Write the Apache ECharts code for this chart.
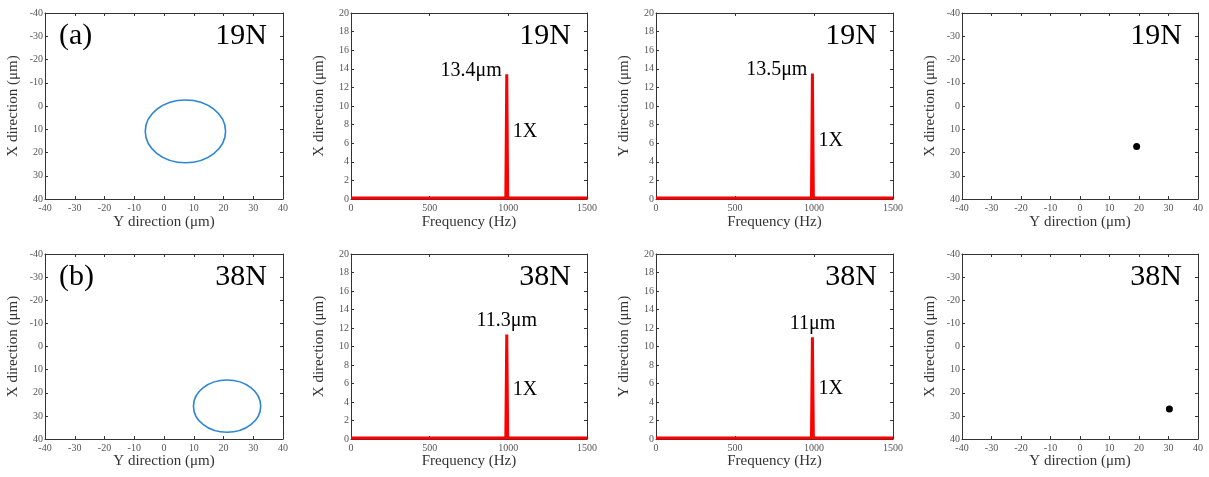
<!DOCTYPE html>
<html>
<head>
<meta charset="utf-8">
<script src="https://cdn.jsdelivr.net/npm/echarts@6/dist/echarts.min.js"></script>
<style>
html,body{margin:0;padding:0;background:#fff;}
#chart{width:1209px;height:477px;}
</style>
</head>
<body>
<div id="chart"></div>
<script>
// ---------- data ----------
const rowLoads = ['19N', '38N'];
const rowTags = ['(a)', '(b)'];
// orbit (ellipse) : centre in Y / X direction, radius in Y / X direction (µm)
const orbitCentreY = [7.2, 21.2];
const orbitCentreX = [10.9, 25.8];
const orbitRadiusY = [13.5, 11.3];
const orbitRadiusX = [13.5, 11.3];
// spectra
const freqHz = [0, 500, 984, 990, 996, 1500];
const specX19 = [0.1, 0.1, 0.1, 13.4, 0.1, 0.1];
const specY19 = [0.1, 0.1, 0.1, 13.5, 0.1, 0.1];
const specX38 = [0.1, 0.1, 0.1, 11.3, 0.1, 0.1];
const specY38 = [0.1, 0.1, 0.1, 11.0, 0.1, 0.1];
const peakFreq = 990;
const peakLabels = [['13.4μm', '13.5μm'], ['11.3μm', '11μm']];
const harmonicLabel = '1X';
const harmonicLabelLevel = [[7.2, 6.3], [5.3, 5.4]];
// filtered 1X position dot (Y dir, X dir)
const dotY = [19.2, 30.3];
const dotX = [17.4, 27.0];
// tick settings
const posTicks = { min: -40, max: 40, interval: 10 };
const freqTicks = { min: 0, max: 1500, interval: 500 };
const ampTicks = { min: 0, max: 20, interval: 2 };

// ---------- layout ----------
const colLeft = [45, 351, 656, 962];
const colWidth = [238, 236, 237, 236];
const rowTop = [13, 254];
const rowHeight = [186, 185];
const xNameGap = [16, 12];

const SERIF = '"Liberation Serif", "DejaVu Serif", serif';
const tickLabel = { fontFamily: SERIF, fontSize: 10, color: '#555', margin: 4, formatter: v => String(v) };
const axisLine = { onZero: false, lineStyle: { color: '#333', width: 1 } };
const axisTick = { inside: true, length: 3, lineStyle: { color: '#333' } };
const nameStyle = { fontFamily: SERIF, fontSize: 15, color: '#333' };

const grids = [], xAxes = [], yAxes = [], series = [], graphics = [];
const spectra = [[specX19, specY19], [specX38, specY38]];

for (let r = 0; r < 2; r++) {
  for (let c = 0; c < 4; c++) {
    const g = grids.length;
    grids.push({ left: colLeft[c], top: rowTop[r], width: colWidth[c], height: rowHeight[r], containLabel: false });
    const isPos = (c === 0 || c === 3);
    const xr = isPos ? posTicks : freqTicks;
    const yr = isPos ? posTicks : ampTicks;
    const xName = isPos ? 'Y direction (μm)' : 'Frequency (Hz)';
    const yName = (c === 2) ? 'Y direction (μm)' : 'X direction (μm)';
    const xi = xAxes.length, yi = yAxes.length;
    xAxes.push({
      type: 'value', gridIndex: g, position: 'bottom', min: xr.min, max: xr.max, interval: xr.interval,
      name: xName, nameLocation: 'middle', nameGap: xNameGap[r], nameTextStyle: nameStyle,
      axisLine: axisLine, axisTick: axisTick,
      axisLabel: tickLabel, splitLine: { show: false }
    });
    xAxes.push({
      type: 'value', gridIndex: g, position: 'top', min: xr.min, max: xr.max, interval: xr.interval,
      axisLine: axisLine, axisTick: axisTick,
      axisLabel: { show: false }, splitLine: { show: false }
    });
    yAxes.push({
      type: 'value', gridIndex: g, position: 'left', min: yr.min, max: yr.max, interval: yr.interval,
      inverse: isPos,
      name: yName, nameLocation: 'middle', nameGap: 24, nameRotate: 90, nameTextStyle: nameStyle,
      axisLine: axisLine, axisTick: axisTick,
      axisLabel: Object.assign({}, tickLabel, { margin: 2 }), splitLine: { show: false }
    });
    yAxes.push({
      type: 'value', gridIndex: g, position: 'right', min: yr.min, max: yr.max, interval: yr.interval,
      inverse: isPos,
      axisLine: axisLine, axisTick: axisTick,
      axisLabel: { show: false }, splitLine: { show: false }
    });

    if (c === 0) {
      series.push({
        type: 'custom', xAxisIndex: xi, yAxisIndex: yi, clip: false,
        data: [[orbitCentreY[r], orbitCentreX[r], orbitRadiusY[r], orbitRadiusX[r]]],
        renderItem: function (params, api) {
          const ctr = api.coord([api.value(0), api.value(1)]);
          const sz = api.size([api.value(2), api.value(3)]);
          return {
            type: 'ellipse',
            shape: { cx: ctr[0], cy: ctr[1], rx: sz[0], ry: sz[1] },
            style: { fill: 'none', stroke: '#2c86d6', lineWidth: 1.6 }
          };
        }
      });
    } else if (c === 3) {
      series.push({
        type: 'scatter', xAxisIndex: xi, yAxisIndex: yi, symbolSize: 7,
        itemStyle: { color: '#000', opacity: 1 }, data: [[dotY[r], dotX[r]]]
      });
    } else {
      const vals = spectra[r][c - 1];
      const peakVal = Math.max.apply(null, vals);
      const peakLabel = peakLabels[r][c - 1];
      series.push({
        type: 'line', xAxisIndex: xi, yAxisIndex: yi, showSymbol: false, symbol: 'none',
        lineStyle: { color: '#ff0000', width: 3 }, animation: false,
        data: freqHz.map((f, i) => [f, vals[i]]),
        markPoint: {
          symbol: 'circle', symbolSize: 0, animation: false,
          data: [
            {
              coord: [peakFreq, peakVal], value: peakLabel,
              label: r === 0
                ? { show: true, position: 'left', distance: 5, offset: [0, -4], formatter: peakLabel, fontFamily: SERIF, fontSize: 20, color: '#000' }
                : { show: true, position: 'top', distance: 4, formatter: peakLabel, fontFamily: SERIF, fontSize: 20, color: '#000' }
            },
            {
              coord: [peakFreq, harmonicLabelLevel[r][c - 1]], value: harmonicLabel,
              label: { show: true, position: 'right', distance: 6, formatter: harmonicLabel, fontFamily: SERIF, fontSize: 20, color: '#000' }
            }
          ]
        }
      });
    }

    // load text, top right
    graphics.push({
      type: 'text', right: 1209 - (colLeft[c] + colWidth[c] - 16), top: rowTop[r] + 8,
      style: { text: rowLoads[r], font: '30px ' + SERIF, fill: '#000', textAlign: 'right' }
    });
    if (c === 0) {
      graphics.push({
        type: 'text', left: colLeft[c] + 14, top: rowTop[r] + 8,
        style: { text: rowTags[r], font: '30px ' + SERIF, fill: '#000' }
      });
    }
  }
}

const chart = echarts.init(document.getElementById('chart'), null, { renderer: 'canvas' });
chart.setOption({
  animation: false,
  backgroundColor: '#fff',
  grid: grids,
  xAxis: xAxes,
  yAxis: yAxes,
  series: series,
  graphic: graphics
});
</script>
</body>
</html>
